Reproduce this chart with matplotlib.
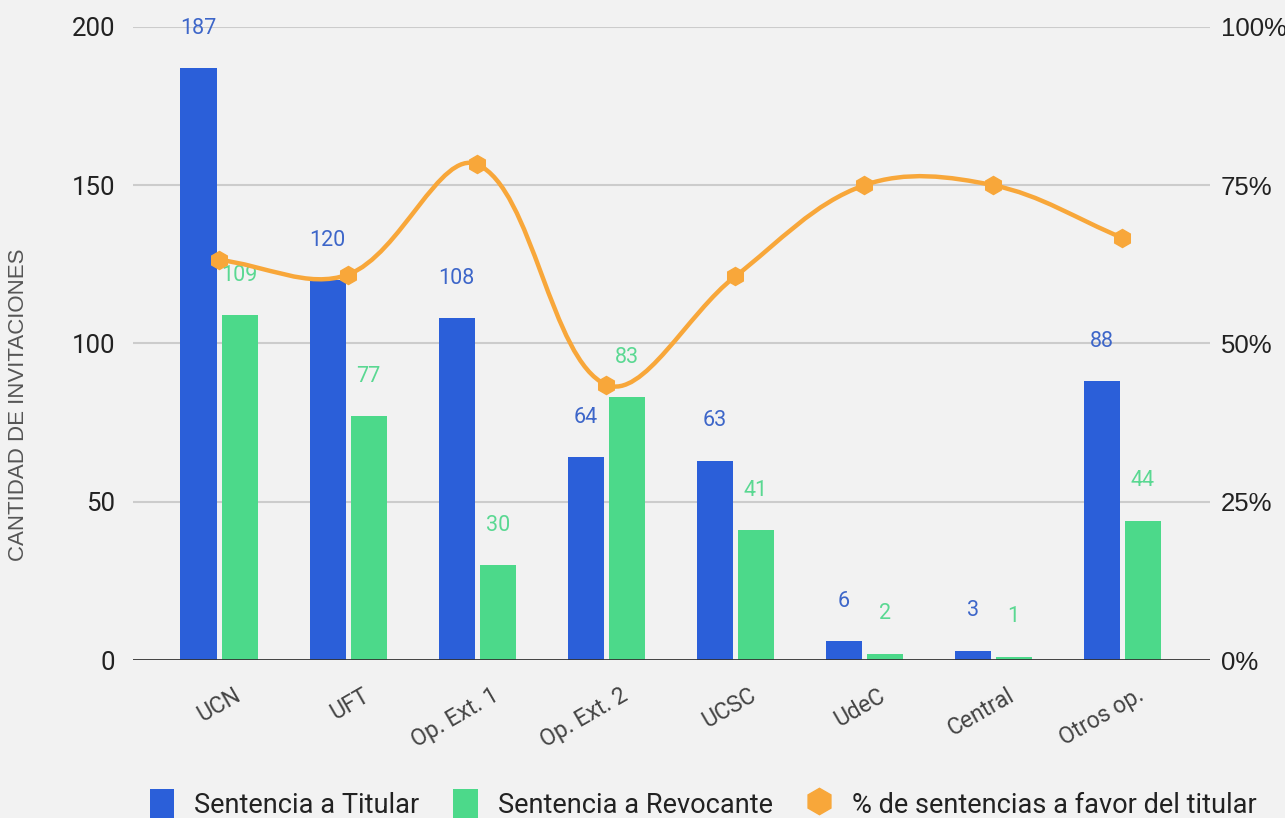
import matplotlib
matplotlib.use("Agg")
import matplotlib.pyplot as plt
import matplotlib.transforms as mtrans
from matplotlib.path import Path
from matplotlib.patches import PathPatch, Patch
from matplotlib.lines import Line2D
import numpy as np

plt.rcParams['font.family'] = ['Roboto', 'DejaVu Sans']

categories = ["UCN", "UFT", "Op. Ext. 1", "Op. Ext. 2", "UCSC", "UdeC", "Central", "Otros op."]
titular = [187, 120, 108, 64, 63, 6, 3, 88]
revocante = [109, 77, 30, 83, 41, 2, 1, 44]
pct_titular = [63.2, 60.9, 78.3, 43.5, 60.6, 75.0, 75.0, 66.7]
left_ticks = [0, 50, 100, 150, 200]
right_ticks = [0, 25, 50, 75, 100]
right_ticklabels = ["0%", "25%", "50%", "75%", "100%"]

BLUE = "#2b5fd9"
GREEN = "#4cd98a"
ORANGE = "#f8a73a"
BLUE_T = "#3d66c9"
GREEN_T = "#5ad892"
BG = "#f2f2f2"

W, H = 1285, 818
fig = plt.figure(figsize=(W / 100, H / 100), dpi=100, facecolor=BG)
ax = fig.add_axes([133 / W, (H - 660) / H, (1210 - 133) / W, (660 - 27) / H])
ax.set_facecolor(BG)

x = np.arange(len(categories))
bw = 0.28
off = 0.159
ax.bar(x - off, titular, bw, color=BLUE, zorder=2)
ax.bar(x + off, revocante, bw, color=GREEN, zorder=2)

for xi, v in zip(x, titular):
    ax.annotate(str(v), (xi - off, v), xytext=(0, 40), textcoords="offset pixels",
                ha="center", va="center", color=BLUE_T, fontsize=15.5)
for xi, v in zip(x, revocante):
    ax.annotate(str(v), (xi + off, v), xytext=(0, 40), textcoords="offset pixels",
                ha="center", va="center", color=GREEN_T, fontsize=15.5)

ax.set_xlim(-0.667, 7.68)
ax.set_ylim(0, 200)
ax.set_yticks(left_ticks)
ax.set_yticklabels([str(t) for t in left_ticks])
ax.tick_params(axis="y", length=0, pad=13, labelsize=18.5, labelcolor="#222222")
for t in left_ticks[1:]:
    ax.axhline(t, color="#cccccc", lw=1.5, zorder=1)
ax.axhline(0, color="#333333", lw=2, zorder=3)
for s in ax.spines.values():
    s.set_visible(False)

ax.set_xticks(x)
ax.set_xticklabels(categories, rotation=30, ha="right", va="top",
                   rotation_mode="anchor", fontsize=16.5, color="#444444")
ax.tick_params(axis="x", length=0, pad=17)
shift = mtrans.ScaledTranslation(14 / 100, 0, fig.dpi_scale_trans)
for lab in ax.get_xticklabels():
    lab.set_transform(lab.get_transform() + shift)

ax2 = ax.twinx()
ax2.set_ylim(0, 100)
ax2.set_yticks(right_ticks)
ax2.set_yticklabels(right_ticklabels, fontfamily="Liberation Sans")
ax2.tick_params(axis="y", length=0, pad=8, labelsize=18.5, labelcolor="#222222")
for s in ax2.spines.values():
    s.set_visible(False)

# smooth curve through the percentage points (Bezier rendering, pixel-space spline)
sx, sy = 129.0, 6.33
P = np.column_stack([x * sx, np.array(pct_titular) * sy]).astype(float)
tension = 0.36
n = len(P)
verts = [tuple(P[0])]
codes = [Path.MOVETO]
cps_out, cps_in = [], []
for i in range(n):
    p0 = P[i - 1] if i > 0 else P[i]
    p2 = P[i + 1] if i < n - 1 else P[i]
    d01 = np.hypot(*(P[i] - p0))
    d12 = np.hypot(*(p2 - P[i]))
    tot = d01 + d12
    fa = tension * d01 / tot
    fb = tension * d12 / tot
    cps_in.append(P[i] - fa * (p2 - p0))
    cps_out.append(P[i] + fb * (p2 - p0))
for i in range(n - 1):
    verts += [tuple(cps_out[i]), tuple(cps_in[i + 1]), tuple(P[i + 1])]
    codes += [Path.CURVE4] * 3
verts = [(vx / sx, vy / sy) for vx, vy in verts]
ax2.add_patch(PathPatch(Path(verts, codes), facecolor="none", edgecolor=ORANGE,
                        lw=3.2, zorder=4, capstyle="round"))
ax2.plot(x, pct_titular, linestyle="none", marker="h", markersize=13,
         color=ORANGE, zorder=5)

fig.text(19 / W, (H - 405) / H, "CANTIDAD DE INVITACIONES", rotation=90,
         ha="center", va="center", fontsize=16, color="#555555",
         fontfamily="Liberation Sans")

handles = [Patch(facecolor=BLUE, edgecolor="none"),
           Patch(facecolor=GREEN, edgecolor="none"),
           Line2D([], [], linestyle="none", marker="h", markersize=19, color=ORANGE)]
labels = ["Sentencia a Titular", "Sentencia a Revocante", "% de sentencias a favor del titular"]
fig.legend(handles, labels, loc="center", bbox_to_anchor=(703 / W, (H - 804) / H),
           ncol=3, frameon=False, fontsize=19.5, handlelength=0.9, handleheight=1.3,
           handletextpad=0.75, columnspacing=1.25, labelcolor="#222222")

fig.savefig("out.png", dpi=100, facecolor=BG)
